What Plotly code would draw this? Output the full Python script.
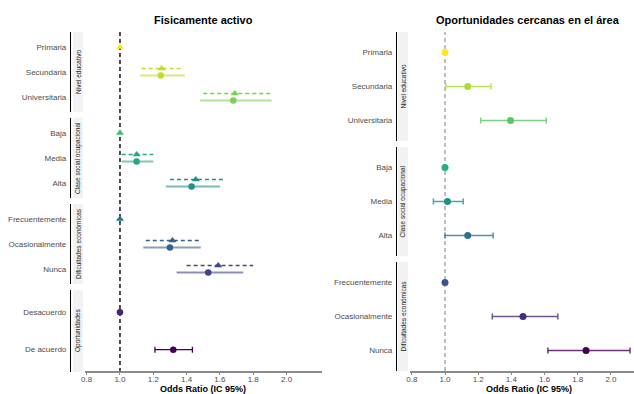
import plotly.graph_objects as go

# ---------------- DATA ----------------
# Panel 1: "Fisicamente activo"
fa_groups = ["Nivel educativo", "Clase social ocupacional", "Dificultades económicas", "Oportunidades"]
fa_categories = [
    ["Primaria", "Secundaria", "Universitaria"],
    ["Baja", "Media", "Alta"],
    ["Frecuentemente", "Ocasionalmente", "Nunca"],
    ["Desacuerdo", "De acuerdo"],
]
# model A (triangles, dashed CI) - groups 1-3
fa_or_a = [1.00, 1.25, 1.69, 1.00, 1.10, 1.455, 1.00, 1.315, 1.59]
fa_lo_a = [None, 1.13, 1.50, None, 1.01, 1.30, None, 1.155, 1.40]
fa_hi_a = [None, 1.38, 1.91, None, 1.20, 1.63, None, 1.49, 1.80]
# model B (circles, solid CI) - groups 1-3
fa_or_b = [None, 1.245, 1.68, None, 1.10, 1.43, None, 1.30, 1.53]
fa_lo_b = [None, 1.12, 1.48, None, 1.01, 1.275, None, 1.14, 1.34]
fa_hi_b = [None, 1.39, 1.91, None, 1.20, 1.60, None, 1.485, 1.74]
# Oportunidades (circles with capped CI)
fa_op_or = [1.00, 1.32]
fa_op_lo = [None, 1.21]
fa_op_hi = [None, 1.435]
fa_colors = ["#FDE725", "#BDDF26", "#7AD151", "#44BF70", "#22A884", "#21908C",
             "#2A788E", "#355F8D", "#414487", "#482475", "#440154"]

# Panel 2: "Oportunidades cercanas en el área"
op_groups = ["Nivel educativo", "Clase social ocupacional", "Dificultades económicas"]
op_categories = [
    ["Primaria", "Secundaria", "Universitaria"],
    ["Baja", "Media", "Alta"],
    ["Frecuentemente", "Ocasionalmente", "Nunca"],
]
op_or = [1.00, 1.137, 1.395, 1.00, 1.015, 1.137, 1.00, 1.47, 1.85]
op_lo = [None, 1.005, 1.215, None, 0.93, 1.00, None, 1.285, 1.62]
op_hi = [None, 1.277, 1.61, None, 1.11, 1.29, None, 1.68, 2.115]
op_colors = ["#FDE725", "#AADC32", "#5DC863", "#27AD81", "#21908C", "#2C728E",
             "#3B528B", "#472D7B", "#440154"]

x_ticks = [0.8, 1.0, 1.2, 1.4, 1.6, 1.8, 2.0]
titles = ["Fisicamente activo", "Oportunidades cercanas en el área"]
x_title = "Odds Ratio (IC 95%)"

# ---------------- LAYOUT HELPERS ----------------
W, H = 634, 394
def px(x): return x / W
def py(y): return 1 - y / H

FONT = "Liberation Sans, Arial, sans-serif"
fa_domains = [(32, 112), (118, 198), (204, 284), (290, 372)]
op_domains = [(32, 141), (147, 256), (262, 371)]

def rgba(hexc, a):
    h = hexc.lstrip("#")
    return "rgba(%d,%d,%d,%.2f)" % (int(h[0:2], 16), int(h[2:4], 16), int(h[4:6], 16), a)

fig = go.Figure()
layout = {}
shapes = []
annotations = []

def yaxis_cfg(cats, dom, axpos):
    n = len(cats)
    return dict(domain=[py(dom[1]), py(dom[0])], range=[n - 1 + 0.6, -0.6],
                tickvals=list(range(n)), ticktext=cats, anchor="free", position=px(axpos),
                showline=True, linecolor="black", linewidth=1.2, ticks="", showgrid=False,
                zeroline=False, automargin=False, ticklabelstandoff=2,
                tickfont=dict(size=8, color="#4D4D4D", family=FONT))

def strip(label, dom, x0, x1):
    shapes.append(dict(type="rect", xref="paper", yref="paper", x0=px(x0), x1=px(x1),
                       y0=py(dom[1]), y1=py(dom[0]), fillcolor="#F2F2F2", line=dict(width=0),
                       layer="below"))
    annotations.append(dict(text=label, xref="paper", yref="paper", x=px((x0 + x1) / 2),
                            y=py((dom[0] + dom[1]) / 2), textangle=-90, showarrow=False,
                            font=dict(size=6.5, color="#1A1A1A", family=FONT),
                            xanchor="center", yanchor="middle"))

# ---------------- PANEL 1 ----------------
d = 0.14
k = 0
for g in range(3):
    yname = "y" if g == 0 else "y%d" % (g + 1)
    layout["yaxis" if g == 0 else "yaxis%d" % (g + 1)] = yaxis_cfg(fa_categories[g], fa_domains[g], 70)
    strip(fa_groups[g], fa_domains[g], 73, 83)
    for i, cat in enumerate(fa_categories[g]):
        c = fa_colors[k]
        if fa_lo_a[k] is not None:
            fig.add_trace(go.Scatter(x=[fa_lo_a[k], fa_hi_a[k]], y=[i - d, i - d], mode="lines",
                                     line=dict(color=c, width=1.3, dash="4px,3px"),
                                     xaxis="x", yaxis=yname, showlegend=False, hoverinfo="skip"))
            fig.add_trace(go.Scatter(x=[fa_lo_b[k], fa_hi_b[k]], y=[i + d, i + d], mode="lines",
                                     line=dict(color=rgba(c, 0.6), width=2.2),
                                     xaxis="x", yaxis=yname, showlegend=False, hoverinfo="skip"))
            fig.add_trace(go.Scatter(x=[fa_or_a[k]], y=[i - d], mode="markers",
                                     marker=dict(symbol="triangle-up", size=7, color=c),
                                     xaxis="x", yaxis=yname, showlegend=False, name=cat))
            fig.add_trace(go.Scatter(x=[fa_or_b[k]], y=[i + d], mode="markers",
                                     marker=dict(symbol="circle", size=6.5, color=c),
                                     xaxis="x", yaxis=yname, showlegend=False, name=cat))
        else:
            fig.add_trace(go.Scatter(x=[fa_or_a[k]], y=[i], mode="markers",
                                     marker=dict(symbol="triangle-up", size=7, color=c),
                                     xaxis="x", yaxis=yname, showlegend=False, name=cat))
        k += 1

# Oportunidades group
layout["yaxis4"] = yaxis_cfg(fa_categories[3], fa_domains[3], 70)
strip(fa_groups[3], fa_domains[3], 73, 83)
for i, cat in enumerate(fa_categories[3]):
    c = fa_colors[9 + i]
    if fa_op_lo[i] is not None:
        fig.add_trace(go.Scatter(x=[fa_op_or[i]], y=[i], mode="markers",
                                 marker=dict(symbol="circle", size=6.5, color=c),
                                 error_x=dict(type="data", symmetric=False,
                                              array=[fa_op_hi[i] - fa_op_or[i]],
                                              arrayminus=[fa_op_or[i] - fa_op_lo[i]],
                                              color=c, thickness=1.3, width=3),
                                 xaxis="x", yaxis="y4", showlegend=False, name=cat))
    else:
        fig.add_trace(go.Scatter(x=[fa_op_or[i]], y=[i], mode="markers",
                                 marker=dict(symbol="circle", size=6.5, color=c),
                                 xaxis="x", yaxis="y4", showlegend=False, name=cat))

# ---------------- PANEL 2 ----------------
k = 0
for g in range(3):
    yname = "y%d" % (g + 5)
    layout["yaxis%d" % (g + 5)] = yaxis_cfg(op_categories[g], op_domains[g], 396)
    strip(op_groups[g], op_domains[g], 398, 408)
    for i, cat in enumerate(op_categories[g]):
        c = op_colors[k]
        if op_lo[k] is not None:
            fig.add_trace(go.Scatter(x=[op_or[k]], y=[i], mode="markers",
                                     marker=dict(symbol="circle", size=7, color=c),
                                     error_x=dict(type="data", symmetric=False,
                                                  array=[op_hi[k] - op_or[k]],
                                                  arrayminus=[op_or[k] - op_lo[k]],
                                                  color=rgba(c, 0.8), thickness=1.5, width=3),
                                     xaxis="x2", yaxis=yname, showlegend=False, name=cat))
        else:
            fig.add_trace(go.Scatter(x=[op_or[k]], y=[i], mode="markers",
                                     marker=dict(symbol="circle", size=7, color=c),
                                     xaxis="x2", yaxis=yname, showlegend=False, name=cat))
        k += 1

# ---------------- AXES ----------------
def xaxis_cfg(dom, rng):
    return dict(domain=[px(dom[0]), px(dom[1])], range=rng, anchor="free", position=py(372),
                showline=True, linecolor="#8A8A8A", linewidth=1.6, ticks="outside", ticklen=2,
                tickcolor="#8A8A8A", tickwidth=1, tickvals=x_ticks, ticklabelstandoff=-2,
                ticktext=["%.1f" % v for v in x_ticks], showgrid=False, zeroline=False,
                automargin=False, tickfont=dict(size=8, color="#4D4D4D", family=FONT))

layout["xaxis"] = xaxis_cfg((85, 322), [0.79, 2.213])
layout["xaxis2"] = xaxis_cfg((410, 634), [0.789, 2.139])

# reference lines at OR = 1
shapes.append(dict(type="line", xref="x", yref="paper", x0=1, x1=1, y0=py(372), y1=py(31),
                   line=dict(color="#3C3C3C", width=1.8, dash="4px,3px"), layer="below"))
shapes.append(dict(type="line", xref="x2", yref="paper", x0=1, x1=1, y0=py(371), y1=py(32),
                   line=dict(color="#8C8C8C", width=1.1, dash="4px,3px"), layer="below"))

# titles
for t, cx in zip(titles, [203, 528]):
    annotations.append(dict(text="<b>%s</b>" % t, xref="paper", yref="paper", x=px(cx), y=py(20),
                            showarrow=False, xanchor="center", yanchor="middle",
                            font=dict(size=11, color="black", family=FONT)))
for cx in [203, 529]:
    annotations.append(dict(text="<b>%s</b>" % x_title, xref="paper", yref="paper", x=px(cx),
                            y=py(388.5), showarrow=False, xanchor="center", yanchor="middle",
                            font=dict(size=9, color="black", family=FONT)))

fig.update_layout(width=W, height=H, margin=dict(l=0, r=0, t=0, b=0, autoexpand=False),
                  paper_bgcolor="white", plot_bgcolor="white",
                  font=dict(family=FONT), shapes=shapes, annotations=annotations, **layout)

fig.write_html("out.html", config={"displayModeBar": False},
               post_script="document.body.style.margin='0';document.body.style.overflow='hidden';")
